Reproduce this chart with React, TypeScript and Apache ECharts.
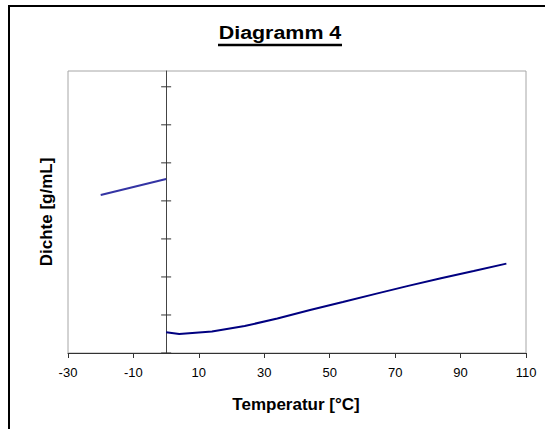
import React, { useEffect, useRef } from "react";
import * as echarts from "echarts";

// Temperature (°C) and density values
const iceTemps = [-20, 0];
const iceDensity = [0.9831, 0.9915];

const waterTemps = [0, 4, 14, 24, 34, 44, 54, 64, 74, 84, 94, 104];
const waterDensity = [0.9109, 0.91, 0.9113, 0.9142, 0.9181, 0.9226, 0.9268, 0.9311, 0.9353, 0.9393, 0.9431, 0.947];

const xTickValues = [-30, -10, 10, 30, 50, 70, 90, 110];
const yTickValues = [0.9, 0.92, 0.94, 0.96, 0.98, 1.0, 1.02, 1.04];
const xMin = -30;
const xMax = 110;
const yMin = 0.9;
const yMax = 1.0483;

const titleText = "Diagramm 4";
const xTitle = "Temperatur [°C]";
const yTitle = "Dichte [g/mL]";

const FONT = '"Liberation Sans", Arial, Helvetica, sans-serif';

export default function App() {
  const ref = useRef<HTMLDivElement>(null);

  useEffect(() => {
    if (!ref.current) return;
    const chart = echarts.init(ref.current, null, { renderer: "svg" });

    const iceData = iceTemps.map((t, i) => [t, iceDensity[i]]);
    const waterData = waterTemps.map((t, i) => [t, waterDensity[i]]);
    const yTickData = yTickValues.map((v) => [0, v]);

    chart.setOption({
      animation: false,
      backgroundColor: "#fff",
      grid: {
        left: 68,
        top: 71,
        right: 19,
        bottom: 76,
        show: true,
        borderColor: "#a6a6a6",
        borderWidth: 1,
        containLabel: false,
        outerBoundsMode: "none",
      },
      xAxis: {
        type: "value",
        min: xMin,
        max: xMax,
        interval: 10,
        axisLine: { onZero: false, lineStyle: { color: "#333", width: 1 } },
        axisTick: {
          show: true,
          customValues: xTickValues,
          length: 5,
          lineStyle: { color: "#333" },
        },
        axisLabel: {
          customValues: xTickValues,
          color: "#000",
          fontSize: 13,
          fontFamily: FONT,
          margin: 13,
        },
        splitLine: { show: false },
      },
      yAxis: {
        type: "value",
        min: yMin,
        max: yMax,
        position: "left",
        axisLine: {
          show: true,
          onZero: true,
          lineStyle: { color: "#444", width: 1 },
        },
        axisTick: { show: false },
        axisLabel: { show: false },
        splitLine: { show: false },
      },
      series: [
        {
          type: "custom",
          name: "yTicks",
          silent: true,
          data: yTickData,
          renderItem: (params: any, api: any) => {
            const p = api.coord([api.value(0), api.value(1)]);
            return {
              type: "line",
              shape: { x1: p[0] - 5, y1: p[1], x2: p[0] + 5, y2: p[1] },
              style: { stroke: "#333", lineWidth: 1 },
            };
          },
          z: 1,
        },
        {
          type: "line",
          name: "Eis",
          data: iceData,
          symbol: "none",
          lineStyle: { color: "#3434a4", width: 2 },
          z: 3,
        },
        {
          type: "line",
          name: "Wasser",
          data: waterData,
          symbol: "none",
          lineStyle: { color: "#000080", width: 2 },
          z: 3,
        },
      ],
      graphic: [
        {
          type: "rect",
          silent: true,
          shape: { x: 9, y: 6, width: 800, height: 800 },
          style: { fill: "none", stroke: "#000", lineWidth: 2 },
        },
        {
          type: "text",
          x: 280,
          y: 32.5,
          scaleX: 1.19,
          style: {
            text: titleText,
            font: "bold 18px " + FONT,
            fill: "#000",
            textAlign: "center",
            textVerticalAlign: "middle",
          },
        },
        {
          type: "line",
          silent: true,
          shape: { x1: 218, y1: 45, x2: 342, y2: 45 },
          style: { stroke: "#000", lineWidth: 2.5 },
        },
        {
          type: "text",
          x: 296,
          y: 404,
          style: {
            text: xTitle,
            font: "bold 17px " + FONT,
            fill: "#000",
            textAlign: "center",
            textVerticalAlign: "middle",
          },
        },
        {
          type: "text",
          x: 46.5,
          y: 212,
          rotation: Math.PI / 2,
          style: {
            text: yTitle,
            font: "bold 17px " + FONT,
            fill: "#000",
            textAlign: "center",
            textVerticalAlign: "middle",
          },
        },
      ],
    });

    return () => chart.dispose();
  }, []);

  return (
    <div
      ref={ref}
      style={{ position: "absolute", left: 0, top: 0, width: 545, height: 429 }}
    />
  );
}
